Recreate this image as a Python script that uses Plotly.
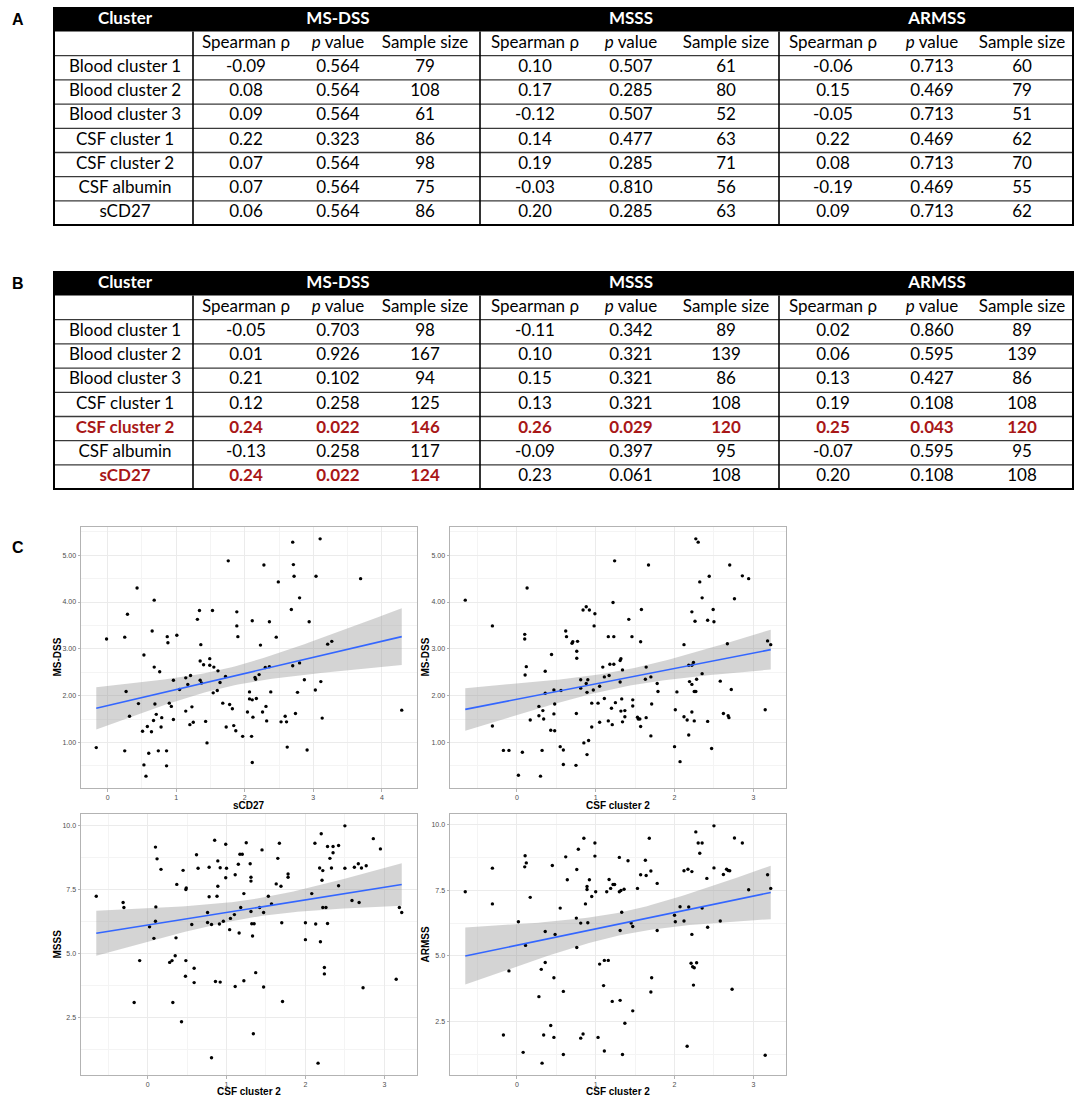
import numpy as np
import plotly.graph_objects as go

W, H = 1084, 1102

# ---------------- Table data ----------------
clusters = ["Blood cluster 1", "Blood cluster 2", "Blood cluster 3", "CSF cluster 1",
            "CSF cluster 2", "CSF albumin", "sCD27"]
outcomes = ["MS-DSS", "MSSS", "ARMSS"]
sub_headers = ["Spearman ρ", "<i>p</i> value", "Sample size"]

# Table A
a_msdss_rho = [-0.09, 0.08, 0.09, 0.22, 0.07, 0.07, 0.06]
a_msdss_p = [0.564, 0.564, 0.564, 0.323, 0.564, 0.564, 0.564]
a_msdss_n = [79, 108, 61, 86, 98, 75, 86]
a_msss_rho = [0.10, 0.17, -0.12, 0.14, 0.19, -0.03, 0.20]
a_msss_p = [0.507, 0.285, 0.507, 0.477, 0.285, 0.810, 0.285]
a_msss_n = [61, 80, 52, 63, 71, 56, 63]
a_armss_rho = [-0.06, 0.15, -0.05, 0.22, 0.08, -0.19, 0.09]
a_armss_p = [0.713, 0.469, 0.713, 0.469, 0.713, 0.469, 0.713]
a_armss_n = [60, 79, 51, 62, 70, 55, 62]

# Table B
b_msdss_rho = [-0.05, 0.01, 0.21, 0.12, 0.24, -0.13, 0.24]
b_msdss_p = [0.703, 0.926, 0.102, 0.258, 0.022, 0.258, 0.022]
b_msdss_n = [98, 167, 94, 125, 146, 117, 124]
b_msss_rho = [-0.11, 0.10, 0.15, 0.13, 0.26, -0.09, 0.23]
b_msss_p = [0.342, 0.321, 0.321, 0.321, 0.029, 0.397, 0.061]
b_msss_n = [89, 139, 86, 108, 120, 95, 108]
b_armss_rho = [0.02, 0.06, 0.13, 0.19, 0.25, -0.07, 0.20]
b_armss_p = [0.860, 0.595, 0.427, 0.108, 0.043, 0.595, 0.108]
b_armss_n = [89, 139, 86, 108, 120, 95, 108]

# ---------------- Scatter data ----------------
# Panel 1: sCD27 vs MS-DSS
p1_x = [1.76, 0.43, 0.68, 0.29, 1.34, 1.53, 1.885, 1.31, 1.885, 1.90, -0.015, 0.25, 0.65, 0.87, 0.88, 1.01,
        1.36, 0.53, 1.35, 1.40, 1.49, 1.49, 1.55, 1.61, 0.68, 0.76, 0.96, 1.14, 1.21, 1.35, 1.37, 1.72, 1.64,
        1.05, 1.17, 0.27, 0.45, 0.69, 0.90, 0.93, 1.60, 1.54, 1.68, 1.78, 1.82, 1.14, 1.23, 0.32, 0.71, 0.79,
        0.96, 0.67, 0.58, 0.78, 0.51, 0.64, 1.20, 1.25, 1.43, 1.73, 1.84, 1.87, 1.45, -0.165, 0.25, 0.60, 0.74,
        0.86, 0.53, 0.86, 0.56,
        2.70, 3.10, 2.28, 2.71, 2.72, 2.49, 3.04, 3.69, 2.80, 2.68, 2.11, 2.36, 2.94, 2.46, 2.23, 3.21, 3.27,
        2.30, 2.36, 2.70, 2.80, 2.15, 2.16, 2.21, 2.87, 3.11, 2.07, 2.38, 3.03, 2.77, 2.07, 2.11, 2.17, 2.31,
        2.04, 2.26, 2.74, 2.12, 2.59, 3.13, 2.32, 2.53, 2.61, 4.29, 1.97, 2.10, 2.62, 2.91, 2.11]
p1_y = [4.88, 4.30, 4.04, 3.74, 3.82, 3.82, 3.79, 3.63, 3.49, 3.26, 3.21, 3.25, 3.38, 3.26, 3.13, 3.29,
        3.09, 2.87, 2.74, 2.66, 2.79, 2.65, 2.61, 2.53, 2.61, 2.51, 2.33, 2.38, 2.43, 2.33, 2.27, 2.41, 2.28,
        2.13, 2.24, 2.09, 1.83, 1.82, 1.84, 1.77, 2.11, 2.06, 1.84, 1.81, 1.72, 1.67, 1.76, 1.56, 1.60, 1.53,
        1.49, 1.47, 1.34, 1.33, 1.24, 1.23, 1.38, 1.43, 1.45, 1.33, 1.36, 1.25, 0.99, 0.89, 0.82, 0.77, 0.82,
        0.82, 0.52, 0.50, 0.28,
        5.28, 5.35, 4.79, 4.80, 4.55, 4.43, 4.55, 4.50, 4.09, 3.84, 3.60, 3.58, 3.58, 3.25, 3.08, 3.10, 3.16,
        2.60, 2.62, 2.64, 2.70, 2.39, 2.35, 2.45, 2.34, 2.30, 2.08, 2.08, 2.12, 2.07, 1.93, 1.91, 1.94, 1.77,
        1.65, 1.65, 1.62, 1.54, 1.56, 1.52, 1.46, 1.44, 1.44, 1.69, 1.13, 1.13, 0.90, 0.84, 0.57]

# Panel 2: CSF cluster 2 vs MS-DSS
p2_x = [-0.654, -0.31, -0.31, -0.17, -0.10, 0.02, 0.07, 0.13, 0.10, 0.10, 0.12, 0.105, 0.17, 0.30, 0.28,
        0.28, 0.33, 0.34, 0.32, 0.36, 0.36, 0.44, 0.43, 0.48, 0.47, 0.48, 0.47, 0.56, 0.55, 0.59, 0.59, 0.62,
        0.63, 0.70, 0.71, 0.77, 0.76, 0.76, 0.755, 0.75, 0.81, 0.81, 0.84, 0.88, 0.92, 0.99, 0.98, 0.88, 0.90,
        0.89, 0.97, 0.95, 0.95, 0.85, 0.91, 0.89, 1.03, 1.05, 1.05, 1.09, 1.11, 1.11,
        1.18, 1.23, 1.22, 1.16, 1.23, 1.24, 1.17, 1.20, 1.16, 1.21, 1.25, 1.31, 1.32, 1.34, 1.31, 1.33, 1.32,
        1.37, 1.37, 1.34, 1.42, 1.46, 1.47, 1.47, 1.53, 1.54, 1.56, 1.57, 1.58, 1.57, 1.67, 1.64, 1.63, 1.64,
        1.70, 1.71, 1.70, 1.78, 1.79, 2.00, 2.07, 2.03, 2.01, 2.12, 2.12, 2.16, 2.18, 2.18, 2.22, 2.24, 2.19,
        2.22, 2.22, 2.25, 2.25, 2.27, 2.28, 2.22, 2.26, 2.27, 2.30, 2.32, 2.35, 2.35, 2.44, 2.49, 2.42, 2.50,
        2.42, 2.47, 2.58, 2.62, 2.68, 2.69, 2.67, 2.72, 2.70, 2.76, 2.86, 2.94, 3.15, 3.18, 3.22]
p2_y = [4.04, 3.49, 1.35, 0.83, 0.83, 0.30, 0.79, 4.30, 3.31, 3.21, 2.62, 2.44, 1.48, 0.28, 1.77,
        1.57, 1.68, 1.50, 0.83, 2.52, 2.05, 2.88, 1.26, 1.25, 2.12, 1.82, 1.61, 2.11, 0.91, 0.84, 0.53, 3.38,
        3.26, 3.12, 3.15, 3.16, 2.95, 2.80, 1.62, 0.51, 2.34, 2.16, 3.83, 3.90, 3.83, 3.75, 3.49, 2.26, 2.34,
        2.07, 2.12, 1.84, 1.33, 0.99, 1.04, 0.74, 1.84, 2.20, 1.43, 2.61, 1.94, 2.40,
        2.67, 2.67, 3.99, 3.26, 3.26, 4.88, 2.43, 1.73, 1.46, 1.38, 1.85, 2.75, 2.79, 2.55, 2.29, 1.93, 1.67,
        1.68, 1.55, 1.44, 3.63, 3.26, 1.91, 1.78, 1.54, 1.50, 1.50, 1.34, 3.84, 3.15, 4.79, 2.61, 2.35, 1.53,
        2.40, 1.82, 1.14, 2.26, 2.09, 0.91, 0.59, 2.08, 1.70, 3.09, 1.55, 1.48, 1.16, 2.65, 2.65, 2.71, 2.30,
        2.24, 1.65, 1.46, 2.09, 2.09, 2.35, 3.79, 3.59, 5.35, 5.28, 4.43, 4.09, 2.47, 4.55, 3.84, 3.61, 3.58,
        1.45, 0.87, 2.31, 1.62, 1.57, 1.53, 3.11, 2.13, 4.79, 4.07, 4.56, 4.50, 1.70, 3.17, 3.09]

# Panel 3: CSF cluster 2 vs MSSS
p3_x = [-0.65, -0.31, -0.30, -0.17, -0.10, 0.025, 0.08, 0.10, 0.12, 0.17, 0.105, 0.10, 0.28, 0.31, 0.32,
        0.35, 0.36, 0.37, 0.45, 0.485, 0.49, 0.485, 0.48, 0.43, 0.56, 0.59, 0.59, 0.62, 0.64, 0.76, 0.78, 0.78,
        0.76, 0.81, 0.81, 0.85, 0.86, 0.89, 0.89, 0.88, 0.92, 0.91, 0.92, 0.96, 0.99, 1.00, 0.99, 1.04,
        1.05, 1.10, 1.11, 1.11, 1.15, 1.17, 1.20, 1.16, 1.18, 1.22, 1.25, 1.30, 1.31, 1.31, 1.31, 1.32, 1.35,
        1.33, 1.37, 1.34, 1.42, 1.47, 1.45, 1.47, 1.53, 1.57, 1.65, 1.67, 1.63, 1.69, 1.70, 1.71, 1.78, 1.78,
        2.00, 2.00, 2.08, 2.13, 2.12, 2.18, 2.20, 2.19, 2.22, 2.21, 2.22, 2.26, 2.28, 2.24, 2.24, 2.28, 2.31,
        2.33, 2.35, 2.35, 2.42, 2.42, 2.50, 2.50, 2.59, 2.62, 2.67, 2.68, 2.71, 2.73, 2.77, 2.86, 2.95, 3.15,
        3.19, 3.22, 2.16, 1.22]
p3_y = [7.24, 6.99, 6.80, 3.08, 4.72, 6.04, 5.59, 9.16, 8.70, 8.29, 6.82, 6.26, 4.65, 4.72, 3.08,
        4.91, 5.61, 7.70, 8.25, 7.50, 7.56, 4.72, 4.11, 2.33, 6.13, 4.42, 3.86, 8.86, 8.33, 6.60, 8.37, 7.22,
        6.21, 6.13, 0.92, 9.43, 3.90, 8.62, 7.63, 7.24, 8.35, 6.15, 3.88, 6.26, 9.27, 8.33, 7.96, 5.93,
        6.37, 6.52, 8.08, 3.71, 8.49, 8.88, 8.88, 5.80, 6.80, 7.34, 9.33, 8.51, 7.98, 7.83, 6.64, 6.16, 6.16,
        5.68, 4.25, 1.86, 6.80, 6.60, 9.05, 3.69, 7.24, 6.94, 8.72, 9.31, 7.72, 7.63, 6.20, 3.12, 8.11, 7.98,
        6.20, 5.54, 7.34, 6.15, 9.31, 8.34, 9.68, 5.46, 8.24, 7.86, 6.80, 6.80, 6.17, 4.45, 4.20, 9.18, 8.72,
        8.34, 9.18, 8.94, 9.22, 7.65, 9.99, 8.33, 7.07, 8.37, 8.51, 6.99, 8.34, 3.66, 8.43, 9.49, 9.09, 3.99,
        6.80, 6.60, 0.71, 3.93]

# Panel 4: CSF cluster 2 vs ARMSS
p4_x = [-0.654, -0.31, -0.31, -0.17, -0.10, 0.02, 0.08, 0.105, 0.12, 0.10, 0.11, 0.17, 0.28, 0.31, 0.36,
        0.34, 0.32, 0.36, 0.43, 0.47, 0.47, 0.45, 0.485, 0.55, 0.59, 0.59, 0.62, 0.64, 0.755, 0.76, 0.76, 0.78,
        0.81, 0.81, 0.85, 0.84, 0.87, 0.89, 0.89, 0.90, 0.92, 0.95, 0.99, 0.99, 1.00, 1.03, 1.05, 1.10, 1.11,
        1.11,
        1.14, 1.17, 1.19, 1.22, 1.24, 1.16, 1.21, 1.30, 1.30, 1.32, 1.36, 1.33, 1.31, 1.31, 1.37, 1.34, 1.41,
        1.45, 1.47, 1.47, 1.53, 1.57, 1.63, 1.64, 1.70, 1.68, 1.71, 1.70, 1.78, 1.78, 2.00, 2.01, 2.07, 2.12,
        2.12, 2.16, 2.17, 2.18, 2.22, 2.22, 2.21, 2.23, 2.25, 2.28, 2.24, 2.27, 2.30, 2.35, 2.32, 2.35, 2.41,
        2.42, 2.50, 2.50, 2.58, 2.62, 2.66, 2.68, 2.70, 2.73, 2.76, 2.86, 2.94, 3.15, 3.18, 3.22]
p4_y = [7.44, 8.34, 6.98, 1.99, 4.43, 6.30, 1.33, 8.81, 8.54, 8.39, 5.40, 7.23, 3.45, 4.49, 4.75,
        1.99, 0.92, 5.93, 2.35, 1.90, 4.17, 8.44, 5.82, 6.82, 3.65, 1.25, 8.77, 7.90, 6.44, 5.32, 8.29, 9.06,
        6.25, 1.87, 9.48, 2.03, 6.98, 7.53, 7.64, 6.26, 7.90, 7.26, 9.30, 8.80, 7.44, 1.90, 4.69, 3.87, 1.38,
        4.83,
        7.44, 7.91, 7.57, 7.72, 7.72, 4.83, 3.27, 8.75, 7.44, 7.49, 7.54, 6.66, 5.97, 3.31, 2.44, 1.25, 8.62,
        6.25, 6.12, 2.91, 7.57, 8.09, 8.64, 8.06, 8.23, 9.48, 4.17, 3.63, 7.76, 5.97, 6.55, 6.30, 6.87, 8.24,
        6.33, 1.56, 8.30, 6.86, 8.21, 5.82, 4.72, 4.59, 4.55, 4.74, 3.89, 9.72, 9.30, 9.30, 8.91, 6.82, 7.95,
        6.09, 9.95, 8.35, 6.33, 8.10, 8.30, 8.25, 8.24, 3.73, 9.49, 9.30, 7.52, 1.22, 8.09, 7.57]

panels = [
    dict(x=p1_x, y=p1_y, xtitle="sCD27", ytitle="MS-DSS", yfmt=".2f", ydtick=1.0),
    dict(x=p2_x, y=p2_y, xtitle="CSF cluster 2", ytitle="MS-DSS", yfmt=".2f", ydtick=1.0),
    dict(x=p3_x, y=p3_y, xtitle="CSF cluster 2", ytitle="MSSS", yfmt=".1f", ydtick=2.5),
    dict(x=p4_x, y=p4_y, xtitle="CSF cluster 2", ytitle="ARMSS", yfmt=".1f", ydtick=2.5),
]

# ---------------- Layout constants (pixels) ----------------
PANEL_BOX = [(81, 417, 527, 788), (450, 786, 527, 788), (81, 417, 814, 1075), (450, 786, 814, 1075)]
YTITLE_X = [57, 425, 57, 425]
XTITLE_Y = [805.5, 805.5, 1091.5, 1091.5]
TX0, TX1 = 54, 1073
V_LINES = [193, 480, 779]
LABEL_X = 125
COL_X = [246, 338, 425, 535, 631, 726, 833, 932, 1022]
GROUP_X = [338, 631, 937]
ROW_H = 24.2
HEAD_H = 23.5
TABLE_TOPS = [8, 272]
RED = "#A81717"
TFONT = "Lato, Liberation Sans, Arial"
TSIZE = 17
AFONT = "Liberation Sans, Arial"


def t_quantile(df, z=1.959964):
    return z + (z**3 + z) / (4 * df) + (5 * z**5 + 16 * z**3 + 3 * z) / (96 * df**2)


def lm_band(x, y, n=80):
    x = np.asarray(x, float)
    y = np.asarray(y, float)
    xm, ym = x.mean(), y.mean()
    sxx = ((x - xm) ** 2).sum()
    b1 = ((x - xm) * (y - ym)).sum() / sxx
    b0 = ym - b1 * xm
    resid = y - (b0 + b1 * x)
    s = np.sqrt((resid ** 2).sum() / (len(x) - 2))
    xs = np.linspace(x.min(), x.max(), n)
    yh = b0 + b1 * xs
    se = s * np.sqrt(1 / len(x) + (xs - xm) ** 2 / sxx)
    t = t_quantile(len(x) - 2)
    return xs, yh, yh - t * se, yh + t * se


def gg_range(vals):
    lo, hi = float(np.min(vals)), float(np.max(vals))
    r = hi - lo
    return [lo - 0.05 * r, hi + 0.05 * r]


fig = go.Figure()
layout = dict(width=W, height=H, margin=dict(l=0, r=0, t=0, b=0), showlegend=False,
              paper_bgcolor="white", plot_bgcolor="white", shapes=[], annotations=[])
title_font = dict(family=AFONT, size=10, color="black")

for i, (p, box) in enumerate(zip(panels, PANEL_BOX), start=1):
    xs, yh, lo, hi = lm_band(p["x"], p["y"])
    xa = "x" if i == 1 else f"x{i}"
    ya = "y" if i == 1 else f"y{i}"
    fig.add_trace(go.Scatter(x=xs, y=lo, mode="lines", line=dict(width=0), hoverinfo="skip",
                             xaxis=xa, yaxis=ya))
    fig.add_trace(go.Scatter(x=xs, y=hi, mode="lines", line=dict(width=0), fill="tonexty",
                             fillcolor="rgba(153,153,153,0.42)", hoverinfo="skip", xaxis=xa, yaxis=ya))
    fig.add_trace(go.Scatter(x=p["x"], y=p["y"], mode="markers",
                             marker=dict(size=3.4, color="black"), xaxis=xa, yaxis=ya))
    fig.add_trace(go.Scatter(x=xs, y=yh, mode="lines", line=dict(color="#3366FF", width=1.6),
                             xaxis=xa, yaxis=ya))
    x0, x1, y0, y1 = box
    xr = gg_range(p["x"])
    yr = gg_range(list(p["y"]) + list(lo) + list(hi))
    common = dict(showline=True, mirror=True, linecolor="#B3B3B3", linewidth=1,
                  showgrid=True, gridcolor="#EBEBEB", gridwidth=0.8, zeroline=False,
                  ticks="outside", ticklen=2.5, tickcolor="#B3B3B3", tickwidth=1,
                  tickfont=dict(family=AFONT, size=7, color="#4D4D4D"))
    layout["xaxis" if i == 1 else f"xaxis{i}"] = dict(
        common, domain=[x0 / W, x1 / W], range=xr, anchor=ya, dtick=1, tick0=0,
        minor=dict(dtick=0.5, tick0=0, showgrid=True, gridcolor="#F4F4F4", gridwidth=0.6, ticks=""))
    layout["yaxis" if i == 1 else f"yaxis{i}"] = dict(
        common, domain=[1 - y1 / H, 1 - y0 / H], range=yr, anchor=xa, dtick=p["ydtick"], tick0=0,
        tickformat=p["yfmt"],
        minor=dict(dtick=p["ydtick"] / 2, tick0=0, showgrid=True, gridcolor="#F4F4F4", gridwidth=0.6,
                   ticks=""))
    # axis titles
    layout["annotations"].append(dict(text=f"<b>{p['xtitle']}</b>", x=(x0 + x1) / 2 / W,
                                      y=1 - XTITLE_Y[i - 1] / H, xref="paper", yref="paper",
                                      xanchor="center", yanchor="middle", showarrow=False, font=title_font))
    layout["annotations"].append(dict(text=f"<b>{p['ytitle']}</b>", x=YTITLE_X[i - 1] / W,
                                      y=1 - (y0 + y1) / 2 / H, xref="paper", yref="paper", textangle=-90,
                                      xanchor="center", yanchor="middle", showarrow=False, font=title_font))

# ---------------- Tables on a pixel-unit axis ----------------
layout["xaxis5"] = dict(domain=[0, 1], range=[0, W], visible=False, fixedrange=True, anchor="y5")
layout["yaxis5"] = dict(domain=[1 - 500 / H, 1], range=[500, 0], visible=False, fixedrange=True, anchor="x5")

tables = [
    [(a_msdss_rho, a_msdss_p, a_msdss_n), (a_msss_rho, a_msss_p, a_msss_n), (a_armss_rho, a_armss_p, a_armss_n)],
    [(b_msdss_rho, b_msdss_p, b_msdss_n), (b_msss_rho, b_msss_p, b_msss_n), (b_armss_rho, b_armss_p, b_armss_n)],
]

for top, groups in zip(TABLE_TOPS, tables):
    bottom = top + HEAD_H + 8 * ROW_H
    shp = layout["shapes"]
    shp.append(dict(type="rect", xref="x5", yref="y5", x0=TX0, x1=TX1, y0=top, y1=top + HEAD_H,
                    fillcolor="black", line=dict(width=0), layer="below"))
    for k in range(1, 8):
        yy = top + HEAD_H + k * ROW_H
        shp.append(dict(type="line", xref="x5", yref="y5", x0=TX0, x1=TX1, y0=yy, y1=yy,
                        line=dict(color="#3A3A3A", width=1.3)))
    for vx in V_LINES:
        shp.append(dict(type="line", xref="x5", yref="y5", x0=vx, x1=vx, y0=top + HEAD_H, y1=bottom,
                        line=dict(color="black", width=1.6)))
    shp.append(dict(type="rect", xref="x5", yref="y5", x0=TX0, x1=TX1, y0=top, y1=bottom,
                    line=dict(color="black", width=2)))

    # header
    fig.add_trace(go.Scatter(
        x=[LABEL_X] + GROUP_X, y=[top + HEAD_H / 2] * 4, mode="text",
        text=[f"<b>{t}</b>" for t in ["Cluster"] + outcomes],
        textfont=dict(family=TFONT, size=TSIZE, color="white"), textposition="middle center",
        hoverinfo="skip", xaxis="x5", yaxis="y5", cliponaxis=False))
    # sub-header
    fig.add_trace(go.Scatter(
        x=COL_X, y=[top + HEAD_H + ROW_H / 2] * 9, mode="text", text=sub_headers * 3,
        textfont=dict(family=TFONT, size=TSIZE, color="black"), textposition="middle center",
        hoverinfo="skip", xaxis="x5", yaxis="y5", cliponaxis=False))
    # body
    tx, ty, tt, tc = [], [], [], []
    for r, name in enumerate(clusters):
        yy = top + HEAD_H + (r + 1) * ROW_H + ROW_H / 2
        sig_row = any(g[1][r] < 0.05 for g in groups)
        tx.append(LABEL_X)
        ty.append(yy)
        tt.append(f"<b>{name}</b>" if sig_row else name)
        tc.append(RED if sig_row else "black")
        for g, (rho, pv, n) in enumerate(groups):
            sig = pv[r] < 0.05
            vals = [f"{rho[r]:.2f}", f"{pv[r]:.3f}", f"{n[r]}"]
            for c, v in enumerate(vals):
                tx.append(COL_X[g * 3 + c])
                ty.append(yy)
                tt.append(f"<b>{v}</b>" if sig else v)
                tc.append(RED if sig else "black")
    fig.add_trace(go.Scatter(
        x=tx, y=ty, mode="text", text=tt, textfont=dict(family=TFONT, size=TSIZE, color=tc),
        textposition="middle center", hoverinfo="skip", xaxis="x5", yaxis="y5", cliponaxis=False))

for lab, py in zip(["A", "B", "C"], [20, 283, 547]):
    layout["annotations"].append(dict(text=f"<b>{lab}</b>", x=10 / W, y=1 - py / H, xref="paper",
                                      yref="paper", xanchor="left", yanchor="middle", showarrow=False,
                                      font=dict(family=AFONT, size=16, color="black")))

fig.update_layout(**layout)
fig.write_html("out.html", config={"displayModeBar": False},
               post_script="document.body.style.margin='0';document.body.style.overflow='hidden';")
